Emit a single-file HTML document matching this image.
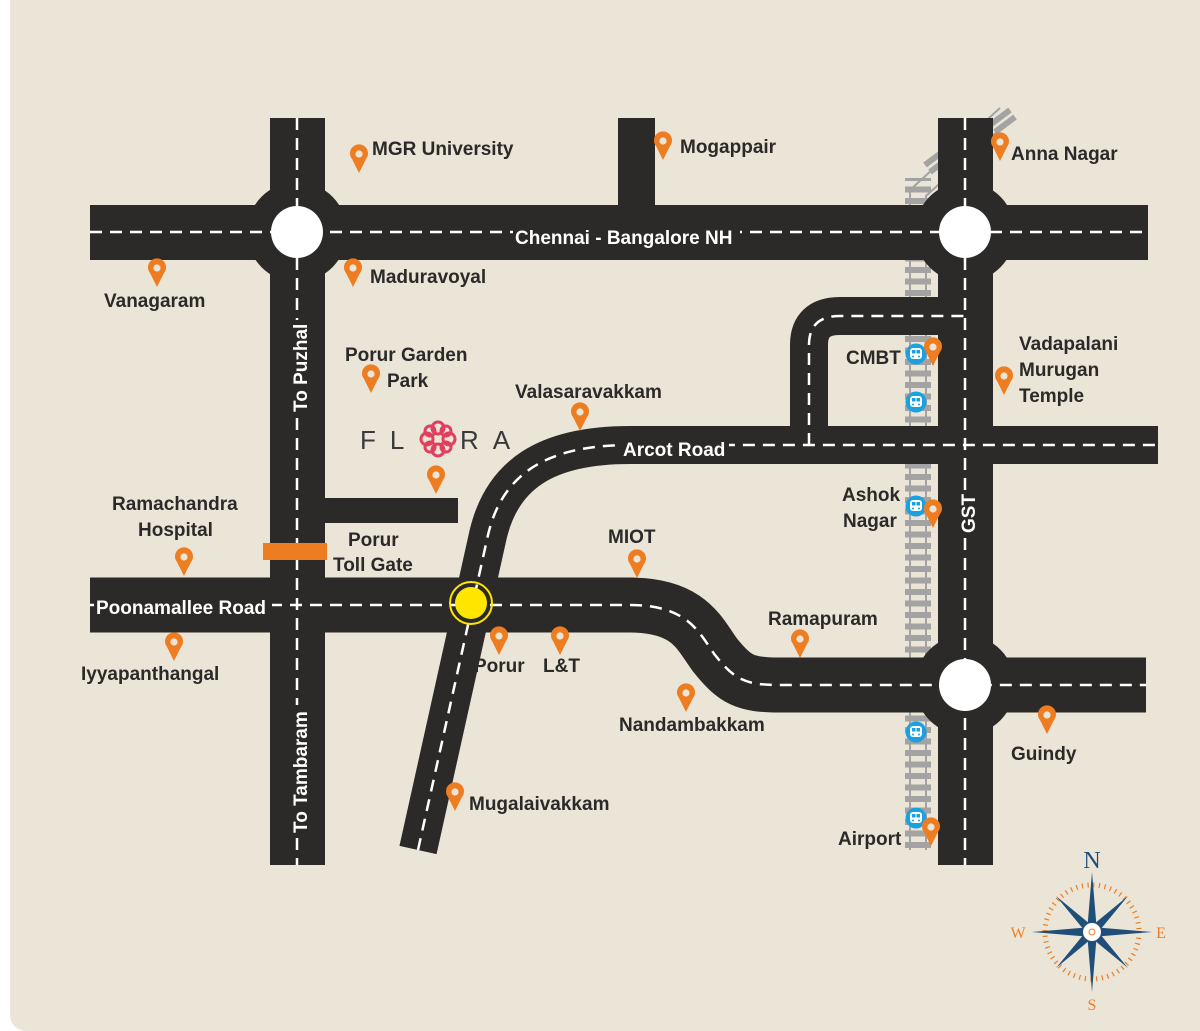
<!DOCTYPE html>
<html><head><meta charset="utf-8"><style>
html,body{margin:0;padding:0;background:#fff;width:1200px;height:1031px;overflow:hidden}
svg{display:block}
text{font-family:"Liberation Sans","DejaVu Sans",sans-serif;font-weight:bold;fill:#2b2a29;font-size:19px}
.w{fill:#fff}
</style></head><body>
<svg width="1200" height="1031" viewBox="0 0 1200 1031" xmlns="http://www.w3.org/2000/svg">
<defs>
<g id="pin"><path d="M0 0 L-7 -14 A9 9 0 1 1 7 -14 Z" fill="#ee7d22"/><circle cx="0" cy="-19" r="3.6" fill="#ebe5d8"/></g>
<g id="metro"><circle r="10.5" fill="#1ba1e2"/><rect x="-6" y="-6" width="12" height="11" rx="3" fill="#fff"/><rect x="-4" y="-4" width="3.5" height="3.5" fill="#1ba1e2"/><rect x="0.5" y="-4" width="3.5" height="3.5" fill="#1ba1e2"/><circle cx="-3" cy="2.5" r="1" fill="#1ba1e2"/><circle cx="3" cy="2.5" r="1" fill="#1ba1e2"/></g>
</defs>
<rect x="10" y="-20" width="1210" height="1051" rx="16" fill="#ebe5d8"/>

<!-- rail -->
<path d="M910 850 V190 L1000 108 M926 850 V196 L1012 118" stroke="#a3a3a3" stroke-width="2" fill="none"/>
<path d="M918 848 V178" stroke="#a3a3a3" stroke-width="26" stroke-dasharray="6 5.5" fill="none"/>
<path d="M925 165 L945 150 M930 172 L950 157 M990 125 L1010 110 M995 132 L1015 117" stroke="#a3a3a3" stroke-width="6" fill="none" transform="rotate(0)"/>

<!-- roads -->
<g fill="#2b2a29">
<rect x="90" y="205" width="1058" height="55"/>
<rect x="270" y="118" width="55" height="747"/>
<rect x="938" y="118" width="55" height="747"/>
<rect x="618" y="118" width="37" height="90"/>
<rect x="325" y="498" width="133" height="25"/>
<circle cx="297" cy="232" r="50"/>
<circle cx="965" cy="232" r="50"/>
<circle cx="965" cy="685" r="50"/>
</g>
<g fill="none" stroke="#2b2a29">
<path d="M90 605 H630 C690 605 700 635 715 655 C735 680 745 685 780 685 H1146" stroke-width="55"/>
<path d="M418 850 L488 535 C502 475 545 445 630 445 H1158" stroke-width="38"/>
<path d="M809 445 V345 Q809 316 840 316 H965" stroke-width="38"/>
</g>
<!-- dashes -->
<g fill="none" stroke="#fff" stroke-width="2.5" stroke-dasharray="12 8">
<path d="M90 232 H1148"/>
<path d="M297 118 V865"/>
<path d="M965 118 V865"/>
<path d="M90 605 H630 C690 605 700 635 715 655 C735 680 745 685 780 685 H1146"/>
<path d="M418 850 L488 535 C502 475 545 445 630 445 H1158"/>
<path d="M809 445 V345 Q809 316 840 316 H965"/>
</g>
<!-- label backgrounds -->
<g fill="#2b2a29">
<rect x="513" y="222" width="227" height="22"/>
<rect x="621" y="436" width="108" height="20"/>
<rect x="94" y="596" width="178" height="20"/>
<rect x="287" y="320" width="22" height="94"/>
<rect x="287" y="705" width="22" height="130"/>
<rect x="955" y="494" width="22" height="41"/>
</g>
<g fill="#fff">
<circle cx="297" cy="232" r="26"/>
<circle cx="965" cy="232" r="26"/>
<circle cx="965" cy="685" r="26"/>
</g>
<rect x="263" y="543" width="64" height="17" fill="#ee7d22"/>
<circle cx="471" cy="603" r="21" fill="none" stroke="#ffe600" stroke-width="2"/>
<circle cx="471" cy="603" r="16" fill="#ffe600"/>

<!-- metro -->
<use href="#metro" x="916" y="354"/><use href="#metro" x="916" y="402"/><use href="#metro" x="916" y="506"/><use href="#metro" x="916" y="732"/><use href="#metro" x="916" y="818"/>

<!-- pins -->
<use href="#pin" x="359" y="173"/><use href="#pin" x="663" y="160"/><use href="#pin" x="1000" y="161"/>
<use href="#pin" x="157" y="287"/><use href="#pin" x="353" y="287"/><use href="#pin" x="371" y="393"/>
<use href="#pin" x="580" y="431"/><use href="#pin" x="436" y="494"/><use href="#pin" x="184" y="576"/>
<use href="#pin" x="637" y="578"/><use href="#pin" x="174" y="661"/><use href="#pin" x="499" y="655"/>
<use href="#pin" x="560" y="655"/><use href="#pin" x="800" y="658"/><use href="#pin" x="686" y="712"/>
<use href="#pin" x="455" y="811"/><use href="#pin" x="933" y="366"/><use href="#pin" x="1004" y="395"/>
<use href="#pin" x="933" y="528"/><use href="#pin" x="1047" y="734"/><use href="#pin" x="931" y="846"/>

<!-- labels -->
<text x="372" y="155">MGR University</text>
<text x="680" y="153">Mogappair</text>
<text x="1011" y="160">Anna Nagar</text>
<text x="104" y="307">Vanagaram</text>
<text x="370" y="283">Maduravoyal</text>
<text x="345" y="361">Porur Garden</text>
<text x="387" y="387">Park</text>
<text x="515" y="398">Valasaravakkam</text>
<text x="112" y="510">Ramachandra</text>
<text x="138" y="536">Hospital</text>
<text x="348" y="546">Porur</text>
<text x="333" y="571">Toll Gate</text>
<text x="608" y="543">MIOT</text>
<text x="81" y="680">Iyyapanthangal</text>
<text x="474" y="672">Porur</text>
<text x="543" y="672">L&amp;T</text>
<text x="768" y="625">Ramapuram</text>
<text x="619" y="731">Nandambakkam</text>
<text x="469" y="810">Mugalaivakkam</text>
<text x="846" y="364">CMBT</text>
<text x="1019" y="350">Vadapalani</text>
<text x="1019" y="376">Murugan</text>
<text x="1019" y="402">Temple</text>
<text x="842" y="501">Ashok</text>
<text x="843" y="527">Nagar</text>
<text x="1011" y="760">Guindy</text>
<text x="838" y="845">Airport</text>
<text x="515" y="244" class="w">Chennai - Bangalore NH</text>
<text x="623" y="456" class="w">Arcot Road</text>
<text x="96" y="614" class="w">Poonamallee Road</text>
<text class="w" transform="translate(307,412) rotate(-90)">To Puzhal</text>
<text class="w" transform="translate(307,833) rotate(-90)">To Tambaram</text>
<text class="w" transform="translate(975,533) rotate(-90)">GST</text>

<!-- Flora logo -->
<text x="360" y="449" style="font-family:'Liberation Sans',sans-serif;font-weight:normal;font-size:26px;fill:#3a3a3a;letter-spacing:14px">FL</text>
<text x="460" y="449" style="font-family:'Liberation Sans',sans-serif;font-weight:normal;font-size:26px;fill:#3a3a3a;letter-spacing:14px">RA</text>
<g fill="none" stroke="#e0405e" stroke-width="3">
<circle cx="438" cy="428" r="6"/><circle cx="438" cy="450" r="6"/><circle cx="427" cy="439" r="6"/><circle cx="449" cy="439" r="6"/>
<circle cx="430" cy="431" r="5"/><circle cx="446" cy="431" r="5"/><circle cx="430" cy="447" r="5"/><circle cx="446" cy="447" r="5"/>
</g>

<!-- compass -->
<g transform="translate(1092,932)">
<circle r="47" fill="none" stroke="#ee7d22" stroke-width="5" stroke-dasharray="1.2 4.5"/>
<g fill="#1f4e79">
<path d="M0 -60 L5 0 L-5 0Z"/><path d="M0 60 L5 0 L-5 0Z"/><path d="M-60 0 L0 -5 L0 5Z"/><path d="M60 0 L0 -5 L0 5Z"/>
<path d="M-36 -36 L4 -3 L-3 4Z"/><path d="M36 -36 L3 4 L-4 -3Z"/><path d="M-36 36 L-3 -4 L4 3Z"/><path d="M36 36 L-4 3 L3 -4Z"/>
</g>
<circle r="9" fill="#fff"/><circle r="3" fill="none" stroke="#ee7d22" stroke-width="1"/>
<text x="0" y="-64" text-anchor="middle" style="font-family:'Liberation Serif',serif;font-size:24px;fill:#1f4e79;font-weight:normal">N</text>
<text x="0" y="78" text-anchor="middle" style="font-family:'Liberation Serif',serif;font-size:16px;fill:#ee7d22;font-weight:normal">S</text>
<text x="-74" y="6" text-anchor="middle" style="font-family:'Liberation Serif',serif;font-size:16px;fill:#ee7d22;font-weight:normal">W</text>
<text x="69" y="6" text-anchor="middle" style="font-family:'Liberation Serif',serif;font-size:16px;fill:#ee7d22;font-weight:normal">E</text>
</g>
</svg>
</body></html>
